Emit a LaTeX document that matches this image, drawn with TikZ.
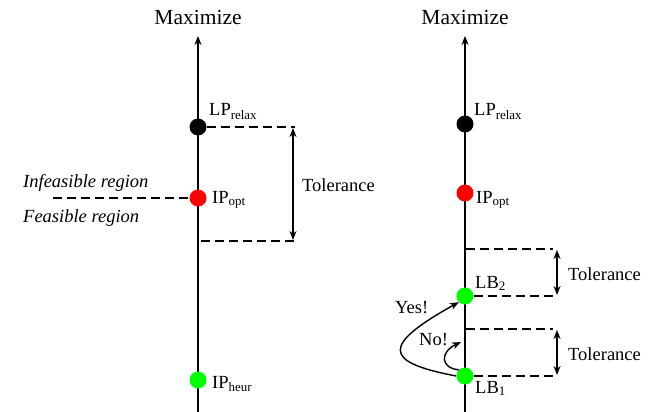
\documentclass[tikz,border=0pt]{standalone}
\usepackage{fontspec}
\setmainfont{Liberation Serif}
\usetikzlibrary{arrows.meta}
\tikzset{
  axis/.style={line width=1.8pt,-{Stealth[length=9pt,width=7pt]}},
  dot/.style={circle,inner sep=0pt,minimum size=17pt},
  dashln/.style={line width=2pt,dash pattern=on 9pt off 5pt},
  tol/.style={line width=1.6pt,{Stealth[length=9pt,width=7pt]}-{Stealth[length=9pt,width=7pt]}},
  lbl/.style={inner sep=0pt,font=\fontsize{18.5}{22}\selectfont},
  big/.style={inner sep=0pt,font=\fontsize{21.5}{25}\selectfont},
  curv/.style={line width=1.4pt,-{Stealth[length=9pt,width=7pt]}}
}
\begin{document}
\begin{tikzpicture}[x=1pt,y=-1pt]
\useasboundingbox (0,0) rectangle (651,412);
% left axis
\coordinate (lbot) at (198,412);
\coordinate (ltop) at (198,36);
\draw[axis] (lbot) -- (ltop);
\node[big,anchor=base] (lmax) at (198,25) {Maximize};
\node[dot,fill=black] (llp) at (198,127) {};
\node[dot,fill=red] (lip) at (198,198) {};
\node[dot,fill=green] (lheur) at (198,380) {};
\node[lbl,anchor=base west] at (209,116) {LP\textsubscript{relax}};
\node[lbl,anchor=base west] at (212,203) {IP\textsubscript{opt}};
\node[lbl,anchor=base west] at (212,388) {IP\textsubscript{heur}};
\coordinate (lt1) at (295,127);
\coordinate (lb0) at (201,241);
\coordinate (lt2) at (295,241);
\draw[dashln] (llp.east) -- (lt1);
\draw[dashln] (lb0) -- (lt2);
\coordinate (la1) at (293,128);
\coordinate (la2) at (293,240);
\draw[tol] (la1) -- (la2);
\node[lbl,anchor=base west] (ltol) at (302,191) {Tolerance};
\coordinate (lfe) at (53,198);
\draw[dashln] (lfe) -- (lip.west);
\node[lbl,anchor=base west] at (23,187) {\itshape Infeasible region};
\node[lbl,anchor=base west] at (23,222) {\itshape Feasible region};
% right axis
\coordinate (rbot) at (465,412);
\coordinate (rtop) at (465,36);
\draw[axis] (rbot) -- (rtop);
\node[big,anchor=base] (rmax) at (465,25) {Maximize};
\node[dot,fill=black] (rlp) at (465,124) {};
\node[dot,fill=red] (rip) at (465,193) {};
\node[dot,fill=green] (lb2) at (465,296) {};
\node[dot,fill=green] (lb1) at (465,376) {};
\node[lbl,anchor=base west] at (474,116) {LP\textsubscript{relax}};
\node[lbl,anchor=base west] at (476,203) {IP\textsubscript{opt}};
\node[lbl,anchor=base west] at (475,288) {LB\textsubscript{2}};
\node[lbl,anchor=base west] at (475,393) {LB\textsubscript{1}};
\coordinate (ra0) at (466,249);
\coordinate (ra1) at (553,249);
\coordinate (rb1) at (553,296);
\coordinate (rc0) at (466,329);
\coordinate (rc1) at (553,329);
\coordinate (rd1) at (553,376);
\draw[dashln] (ra0) -- (ra1);
\draw[dashln] (lb2.east) -- (rb1);
\draw[dashln] (rc0) -- (rc1);
\draw[dashln] (lb1.east) -- (rd1);
\coordinate (t1a) at (557,250);
\coordinate (t1b) at (557,295);
\coordinate (t2a) at (557,330);
\coordinate (t2b) at (557,375);
\draw[tol] (t1a) -- (t1b);
\draw[tol] (t2a) -- (t2b);
\node[lbl,anchor=base west] at (568,280) {Tolerance};
\node[lbl,anchor=base west] at (568,360) {Tolerance};
% Yes / No curves
\draw[curv] (lb1.west) .. controls (382,362) and (382,345) .. (lb2.south west);
\coordinate (noend) at (461,342);
\draw[curv] (lb1.north west) .. controls (440,368) and (440,352) .. (noend);
\node[lbl,anchor=base west] at (395,313) {Yes!};
\node[lbl,anchor=base west] at (419,345) {No!};
\end{tikzpicture}
\end{document}
